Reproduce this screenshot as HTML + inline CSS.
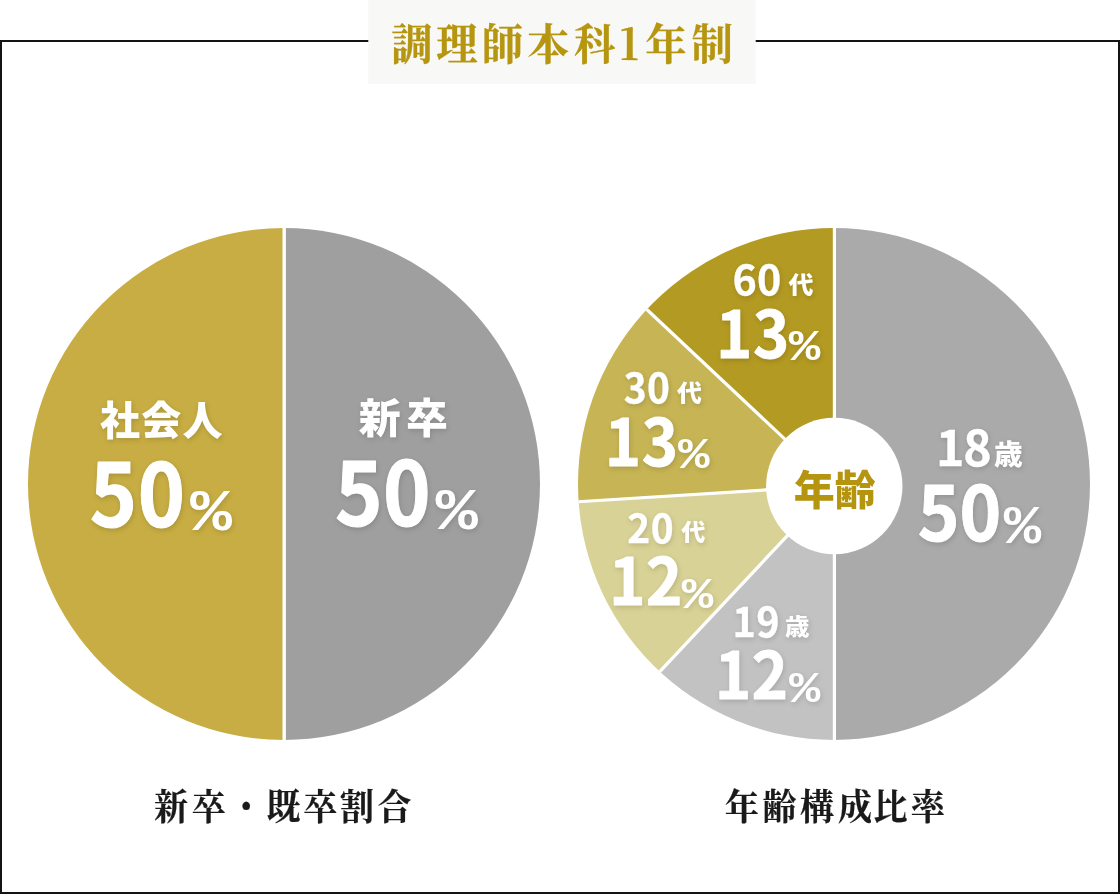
<!DOCTYPE html>
<html lang="ja">
<head>
<meta charset="utf-8">
<title>調理師本科1年制</title>
<style>
html,body{margin:0;padding:0;background:#fff;}
body{width:1120px;height:894px;overflow:hidden;}
svg{display:block;}
text{white-space:pre;}
.sb{font-family:"Noto Sans CJK JP","Liberation Sans",sans-serif;font-weight:700;}
.sk{font-family:"Noto Sans CJK JP","Liberation Sans",sans-serif;font-weight:900;}
.mb{font-family:"Noto Serif CJK JP","Noto Serif CJK SC","Liberation Serif",serif;font-weight:700;}
.mk{font-family:"Noto Serif CJK JP","Noto Serif CJK SC","Liberation Serif",serif;font-weight:900;}
.pc{font-family:"Liberation Mono",monospace;font-weight:700;}
.cap{stroke:#1a1a1a;stroke-linejoin:round;}
.ttl{stroke:#b6950f;stroke-linejoin:round;}
#labels{filter:drop-shadow(1.5px 2px 2.5px rgba(0,0,0,.14));}
</style>
</head>
<body>
<svg width="1120" height="894" viewBox="0 0 1120 894" lang="ja">
<rect x="1" y="41" width="1118" height="852" fill="#fff" stroke="#141414" stroke-width="2"/>
<rect x="368.3" y="0" width="387.4" height="83.8" fill="#f8f8f7"/>
<text class="mb ttl" transform="scale(0.9619 1)" font-size="43.07" x="406.75 453.47 500.84 548.33 596.63 644.12 670.69 718.81" y="60.29" fill="#b6950f" stroke-width="0.26">調理師本科1年制</text>
<g id="pie1">
<path d="M284 484V228A256 256 0 0 0 284 740Z" fill="#c7ad43"/>
<path d="M284 484V228A256 256 0 0 1 284 740Z" fill="#9f9f9f"/>
<line x1="284.2" y1="226" x2="284.2" y2="742" stroke="#fff" stroke-width="3.4"/>
</g>
<clipPath id="disc2"><circle cx="834" cy="484" r="256"/></clipPath>
<g id="pie2" clip-path="url(#disc2)">
<polygon points="834.4,485.6 834.4,65.6 1016.6,107.2 1162.8,223.7 1243.9,392.1 1243.9,579.1 1162.8,747.5 1016.6,864.0 834.4,905.6" fill="#aaaaaa"/>
<polygon points="834.4,485.6 834.4,905.6 679.8,876.1 546.9,791.8" fill="#c2c2c2"/>
<polygon points="834.4,485.6 546.9,791.8 454.4,664.4 415.2,512.0" fill="#d9d296"/>
<polygon points="834.4,485.6 415.2,512.0 439.2,343.3 528.2,198.1" fill="#c6b455"/>
<polygon points="834.4,485.6 528.2,198.1 667.6,100.1 834.4,65.6" fill="#b39a22"/>
<line x1="834.4" y1="485.6" x2="834.40" y2="185.60" stroke="#fff" stroke-width="3.2"/>
<line x1="834.4" y1="485.6" x2="834.40" y2="785.60" stroke="#fff" stroke-width="3.2"/>
<line x1="834.4" y1="485.6" x2="629.04" y2="704.29" stroke="#fff" stroke-width="3.2"/>
<line x1="834.4" y1="485.6" x2="534.99" y2="504.44" stroke="#fff" stroke-width="3.2"/>
<line x1="834.4" y1="485.6" x2="615.71" y2="280.24" stroke="#fff" stroke-width="3.2"/>
</g>
<circle cx="834.3" cy="486" r="68.2" fill="#fff"/>
<text class="sk" transform="scale(1.0046 1)" font-size="40.79" x="790.17 830.96" y="505.04" fill="#b5940f">年齢</text>
<g id="labels" fill="#fff" stroke="#fff" stroke-width="0" stroke-linejoin="round">
<text class="sk" transform="scale(0.9970 1)" font-size="40.11" x="100.34 141.64 182.95" y="434.75">社会人</text>
<text class="sb" transform="scale(0.9099 1)" font-size="88.04" x="98.57 151.31" y="527.39" stroke-width="1.06">50<tspan class="pc" font-size="59.52" x="208.82" y="530.25" textLength="46.23" lengthAdjust="spacingAndGlyphs" stroke-width="0">%</tspan></text>
<text class="sk" transform="scale(1.0290 1)" font-size="40.74" x="348.72 394.68" y="432.79">新卒</text>
<text class="sb" transform="scale(0.9157 1)" font-size="88.23" x="365.89 418.24" y="525.69" stroke-width="1.06">50<tspan class="pc" font-size="59.66" x="475.5" y="528.75" textLength="46.38" lengthAdjust="spacingAndGlyphs" stroke-width="0">%</tspan></text>
<text class="sb" transform="scale(0.9902 1)" font-size="48.69" x="945.4 972.8" y="466.32" stroke-width="0.39">18<tspan class="sk" font-size="28.26" x="1003.96" y="464.79" textLength="28.99" lengthAdjust="spacingAndGlyphs" stroke-width="0">歳</tspan></text>
<text class="sb" transform="scale(0.9316 1)" font-size="76.05" x="985.02 1030" y="540.55" stroke-width="0.91">50<tspan class="pc" font-size="52.8" x="1077.47" y="543.19" textLength="40.22" lengthAdjust="spacingAndGlyphs" stroke-width="0">%</tspan></text>
<text class="sb" transform="scale(1.0162 1)" font-size="40.59" x="720.74 745.06" y="295.37" stroke-width="0.32">60<tspan class="sk" font-size="24.37" x="775.85" y="293.83" textLength="24.55" lengthAdjust="spacingAndGlyphs" stroke-width="0">代</tspan></text>
<text class="sb" transform="scale(0.9446 1)" font-size="65.24" x="758 797.13" y="358.11" stroke-width="0.78">13<tspan class="pc" font-size="43.85" x="834.98" y="360.24" textLength="33.48" lengthAdjust="spacingAndGlyphs" stroke-width="0">%</tspan></text>
<text class="sb" transform="scale(0.9678 1)" font-size="40.21" x="644.49 668.61" y="402.78" stroke-width="0.32">30<tspan class="sk" font-size="23.95" x="699.43" y="401.77" textLength="25.67" lengthAdjust="spacingAndGlyphs" stroke-width="0">代</tspan></text>
<text class="sb" transform="scale(0.9446 1)" font-size="65.24" x="640.18 679.3" y="466.11" stroke-width="0.78">13<tspan class="pc" font-size="43.85" x="717.79" y="468.24" textLength="33.48" lengthAdjust="spacingAndGlyphs" stroke-width="0">%</tspan></text>
<text class="sb" transform="scale(0.9792 1)" font-size="39.8" x="640.62 664.49" y="542.56" stroke-width="0.32">20<tspan class="sk" font-size="23.73" x="695.7" y="541.49" textLength="24.64" lengthAdjust="spacingAndGlyphs" stroke-width="0">代</tspan></text>
<text class="sb" transform="scale(0.9578 1)" font-size="64.85" x="635.75 674.11" y="604.91" stroke-width="0.78">12<tspan class="pc" font-size="44.75" x="711.72" y="607.74" textLength="32.96" lengthAdjust="spacingAndGlyphs" stroke-width="0">%</tspan></text>
<text class="sb" transform="scale(0.9773 1)" font-size="40.54" x="749.49 773.82" y="636.76" stroke-width="0.32">19<tspan class="sk" font-size="22.37" x="803.24" y="635.05" textLength="25.1" lengthAdjust="spacingAndGlyphs" stroke-width="0">歳</tspan></text>
<text class="sb" transform="scale(0.9578 1)" font-size="64.85" x="746.31 784.67" y="698.91" stroke-width="0.78">12<tspan class="pc" font-size="44.75" x="823.74" y="701.74" textLength="32.76" lengthAdjust="spacingAndGlyphs" stroke-width="0">%</tspan></text>
</g>
<text class="mb cap" transform="scale(0.9231 1)" font-size="36.8" x="166.95 207.66 248.41 288.76 328.45 368.26 408.85" y="820.3" fill="#1a1a1a" stroke-width="0.22">新卒・既卒割合</text>
<text class="mb cap" transform="scale(0.9389 1)" font-size="36.34" x="771.91 812.24 852.18 892.43 930.39 970.14" y="820.27" fill="#1a1a1a" stroke-width="0.22">年齢構成比率</text>
</svg>
</body>
</html>
